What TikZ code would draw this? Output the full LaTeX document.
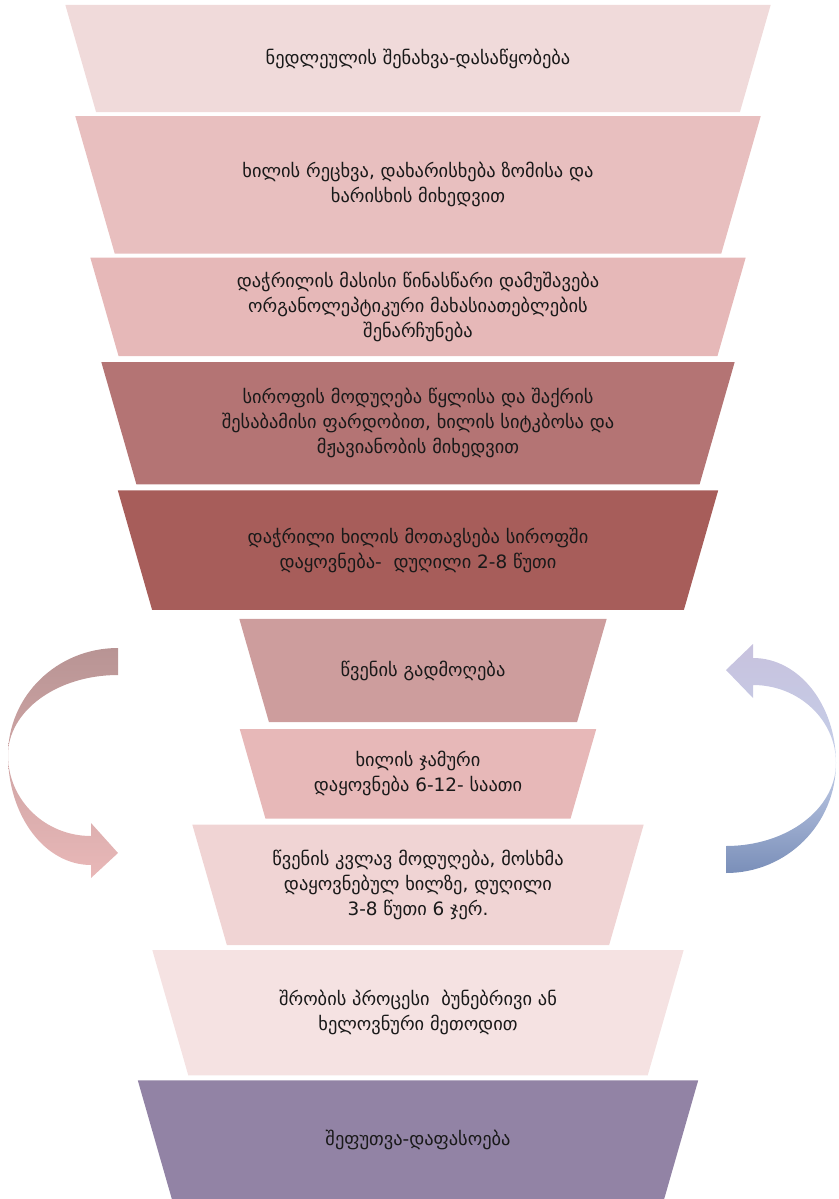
\documentclass[tikz,border=0pt]{standalone}
\usepackage{fontspec}
\usepackage{tikz}
\usetikzlibrary{positioning, calc, backgrounds}
\newfontfamily\geo{DejaVu Sans}
\definecolor{fstore}{RGB}{240,218,218}
\definecolor{fwash}{RGB}{232,191,191}
\definecolor{fprecut}{RGB}{230,184,184}
\definecolor{fsyrup}{RGB}{180,116,116}
\definecolor{fimmerse}{RGB}{167,93,90}
\definecolor{fjuice}{RGB}{205,157,157}
\definecolor{frest}{RGB}{231,184,184}
\definecolor{freboil}{RGB}{240,212,212}
\definecolor{fdry}{RGB}{245,226,226}
\definecolor{fpack}{RGB}{146,131,165}
\definecolor{ltop}{RGB}{184,148,148}
\definecolor{lbot}{RGB}{233,184,184}
\definecolor{rtop}{RGB}{200,194,222}
\definecolor{rmid}{RGB}{196,206,232}
\definecolor{rbot}{RGB}{122,143,185}
\definecolor{txt}{RGB}{25,25,25}
\tikzset{
  funnel/.style={rectangle, draw=none, align=center, inner sep=0pt,
    text=txt, font=\geo\fontsize{18.4}{25}\selectfont}
}

\begin{document}
\begin{tikzpicture}[x=1pt, y=-1pt]
  \useasboundingbox (0,0) rectangle (838,1199);
  \node[funnel, minimum width=705pt, minimum height=107pt] (store) at (418,58.5)
    {ნედლეულის შენახვა-დასაწყობება};
  \node[funnel, minimum width=685pt, minimum height=137pt, below=4pt of store] (wash)
    {ხილის რეცხვა, დახარისხება ზომისა და\\ხარისხის მიხედვით};
  \node[funnel, minimum width=655pt, minimum height=98pt, below=4pt of wash] (precut)
    {დაჭრილის მასისი წინასწარი დამუშავება\\ორგანოლეპტიკური მახასიათებლების\\შენარჩუნება};
  \node[funnel, minimum width=633pt, minimum height=122pt, below=6pt of precut] (syrup)
    {სიროფის მოდუღება წყლისა და შაქრის\\შესაბამისი ფარდობით, ხილის სიტკბოსა და\\მჟავიანობის მიხედვით};
  \node[funnel, minimum width=600pt, minimum height=119pt, below=6pt of syrup] (immerse)
    {დაჭრილი ხილის მოთავსება სიროფში\\დაყოვნება-\ \ დუღილი 2-8 წუთი};
  \node[funnel, minimum width=367pt, minimum height=103pt, below=9pt of immerse,
    xshift=5pt] (juice)
    {წვენის გადმოღება};
  \node[funnel, minimum width=356pt, minimum height=89pt, below=7pt of juice,
    xshift=-5pt] (rest)
    {ხილის ჯამური\\დაყოვნება 6-12- საათი};
  \node[funnel, minimum width=451pt, minimum height=120pt, below=6pt of rest] (reboil)
    {წვენის კვლავ მოდუღება, მოსხმა\\დაყოვნებულ ხილზე, დუღილი\\3-8 წუთი 6 ჯერ.};
  \node[funnel, minimum width=531pt, minimum height=125pt, below=5pt of reboil] (drying)
    {შრობის პროცესი\ \ ბუნებრივი ან\\ხელოვნური მეთოდით};
  \node[funnel, minimum width=560pt, minimum height=118pt, below=5pt of drying] (pack)
    {შეფუთვა-დაფასოება};
  % funnel slices behind the text
  \begin{scope}[on background layer]
    \foreach \nm/\col in {store/fstore, wash/fwash, precut/fprecut, syrup/fsyrup,
        immerse/fimmerse, juice/fjuice, rest/frest, reboil/freboil, drying/fdry, pack/fpack}
      \fill[\col] let \p1=(\nm.north west), \p2=(\nm.south east),
          \n1={0.287*(\y1-\y2)} in
        (\p1) -- (\x2,\y1) -- (\x2-\n1,\y2) -- (\x1+\n1,\y2) -- cycle;
  \end{scope}
  % curved block arrows
  \shade[top color=ltop, bottom color=lbot, middle color=ltop!50!lbot]
    (118,648) .. controls (57,648) and (8,696) .. (8,755)
    .. controls (8,816) and (45,865) .. (91,865)
    -- (91,878) -- (118,853) -- (91,823) -- (91,836)
    .. controls (45,836) and (8,800) .. (8,755)
    .. controls (8,711) and (57,675) .. (118,675) -- cycle;
  \shade[top color=rtop, bottom color=rbot, middle color=rmid]
    (726,873) .. controls (787,873) and (836,824) .. (836,763)
    .. controls (836,705) and (799,658) .. (753,658)
    -- (753,644) -- (726,670) -- (753,698) -- (753,685)
    .. controls (799,685) and (836,720) .. (836,763)
    .. controls (836,809) and (787,846) .. (726,846) -- cycle;
\end{tikzpicture}
\end{document}
